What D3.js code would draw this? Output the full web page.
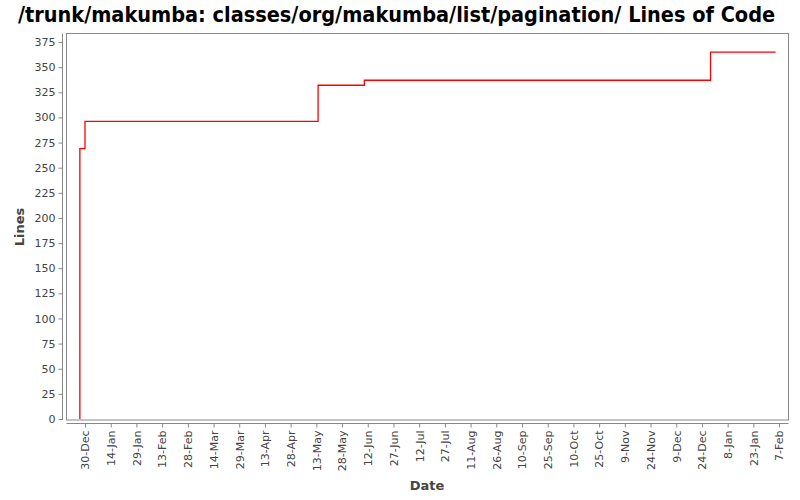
<!DOCTYPE html>
<html><head><meta charset="utf-8">
<script src="https://cdn.jsdelivr.net/npm/d3@7"></script>
<style>body{margin:0;background:#fff}</style>
</head><body>
<svg id="c" width="800" height="500"></svg>
<script>
const title = "/trunk/makumba: classes/org/makumba/list/pagination/ Lines of Code";
const dates = ["2003-12-27","2003-12-27","2003-12-30","2004-05-14","2004-06-10","2004-12-29","2005-02-05"];
const values = [0, 269, 296, 332, 337, 365, 365];
const yTicks = [0,25,50,75,100,125,150,175,200,225,250,275,300,325,350,375];
const xTickStart = "2003-12-30", xTickEnd = "2005-02-07", xTickStepDays = 15;

const parse = d3.utcParse("%Y-%m-%d");
const data = dates.map((d,i)=>({date:parse(d), value:values[i]}));
const svg = d3.select("#c");
const P = {l:66.5, r:788.5, t:33.5, b:420};
const day = 864e5;
const t0 = parse(xTickStart), t1 = parse(xTickEnd);
const x = d3.scaleUtc().domain([new Date(+t0 - 10.8*day), new Date(+t0 + 410.5*day)]).range([P.l, P.r]);
const y = d3.scaleLinear().domain([-1, 383.5]).range([P.b, P.t]);
const xTicks = [];
for (let t=+t0; t<=+t1; t+=xTickStepDays*day) xTicks.push(new Date(t));

svg.append("text").attr("x",396.5).attr("y",21.5).attr("text-anchor","middle")
  .attr("font-family","DejaVu Sans Condensed, DejaVu Sans").attr("font-weight","bold").attr("font-size",21.5)
  .attr("fill","#000").text(title);

svg.append("rect").attr("x",P.l).attr("y",P.t).attr("width",P.r-P.l).attr("height",P.b-P.t)
  .attr("fill","#fff").attr("stroke","#888").attr("stroke-width",1);

const yAx = svg.append("g").attr("transform","translate(62.5,0)")
  .call(d3.axisLeft(y).tickValues(yTicks).tickSize(4).tickPadding(3).tickSizeOuter(0));
yAx.select(".domain").attr("stroke","#888").attr("d",`M0,${P.t}V${P.b}`);
yAx.selectAll(".tick line").attr("stroke","#888");
yAx.selectAll(".tick text").attr("font-family","DejaVu Sans").attr("font-size",11).attr("fill","#444");

const xAx = svg.append("g").attr("transform","translate(0,423.5)")
  .call(d3.axisBottom(x).tickValues(xTicks).tickFormat(d3.utcFormat("%-d-%b")).tickSize(4).tickSizeOuter(0));
xAx.select(".domain").attr("stroke","#888").attr("d",`M${P.l},0H${P.r}`);
xAx.selectAll(".tick line").attr("stroke","#888");
xAx.selectAll(".tick text").attr("font-family","DejaVu Sans").attr("font-size",11).attr("fill","#444")
  .attr("transform","rotate(-90)").attr("text-anchor","end").attr("x",-7).attr("y",0).attr("dy","0.35em");

svg.append("path").datum(data).attr("fill","none").attr("stroke","#ff0000").attr("stroke-width",1.3)
  .attr("d", d3.line().x(d=>x(d.date)).y(d=>y(d.value)).curve(d3.curveStepAfter));

svg.append("text").attr("transform","translate(24,227) rotate(-90)").attr("text-anchor","middle")
  .attr("font-family","DejaVu Sans").attr("font-weight","bold").attr("font-size",13).attr("fill","#444").text("Lines");
svg.append("text").attr("x",427).attr("y",490).attr("text-anchor","middle")
  .attr("font-family","DejaVu Sans").attr("font-weight","bold").attr("font-size",13).attr("fill","#444").text("Date");
</script>
</body></html>
